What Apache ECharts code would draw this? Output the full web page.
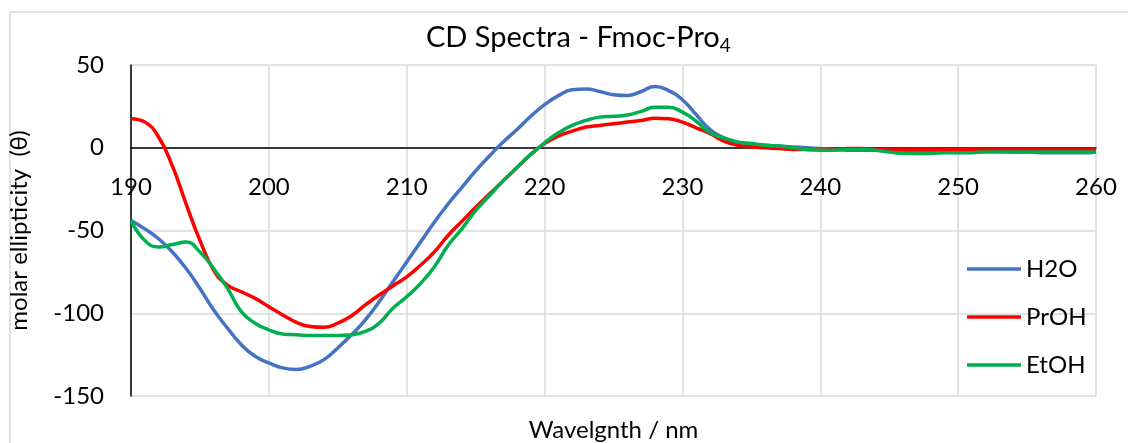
<!DOCTYPE html>
<html>
<head>
<meta charset="utf-8">
<script src="https://cdn.jsdelivr.net/npm/echarts@6/dist/echarts.min.js"></script>
<style>
  html, body { margin: 0; padding: 0; background: #fff; }
  #chart { width: 1128px; height: 443px; }
</style>
</head>
<body>
<div id="chart"></div>
<script>
// wavelength 190..260 nm, 1 nm steps
var wavelengths = [];
for (var w = 190; w <= 260; w++) wavelengths.push(w);

var h2o = [
  -44, -49, -55, -63, -73, -85, -98, -109, -119, -126,
  -130, -133, -134, -132, -128, -121, -113, -104, -93, -81,
  -69, -57, -45, -34, -24, -14, -5, 3.5, 11, 19,
  26, 31.5, 35, 35.5, 34, 32, 31.5, 34, 37, 34.5,
  29, 20, 11, 6, 3, 2, 1.5, 1, 0.5, 0,
  -0.5, -1, -1.5, -1.5, -1.5, -1.5, -1.5, -1.5, -1.5, -1.5,
  -1.5, -1.5, -2, -2, -2.5, -2.5, -3, -3, -3, -3,
  -2.5
];
var proh = [
  17.5, 15.5, 6.5, -11, -34, -56, -74, -83, -87, -91,
  -96, -101, -105.5, -108, -108.5, -106, -101.5, -95, -89, -83.5,
  -78, -71, -63, -53, -44.5, -36, -28, -20, -12, -4,
  2.5, 7, 10, 12.5, 13.5, 14.5, 15.5, 16.5, 17.8, 17.5,
  15.5, 12, 8.5, 4, 1.5, 0.5, 0, -0.5, -1, -1,
  -1, -1, -0.5, -0.5, -1, -1, -1, -1, -1, -1,
  -1, -1, -1, -1, -1, -1, -1.2, -1.2, -1.2, -1.2,
  -1.2
];
var etoh = [
  -44, -56, -60, -58.5, -57, -63, -73, -85, -99, -106,
  -110, -112.5, -113, -113.5, -113.5, -113.5, -113, -111, -106, -97,
  -90, -82, -72, -59, -49, -38, -29, -20, -12, -4,
  3, 9, 13.5, 16.5, 18.5, 19, 19.8, 22, 24.5, 24.5,
  21.5, 16, 9, 6, 3.5, 2.5, 1.5, 1, 0, -1,
  -1.5, -1.5, -1, -1, -1.5, -2.5, -3.5, -3.5, -3.5, -3,
  -3, -3, -2.5, -2.5, -2.5, -2.5, -2.5, -2.5, -2.5, -2.5,
  -2.5
];

function pairs(ys) {
  return wavelengths.map(function (x, i) { return [x, ys[i]]; });
}

var font = 'Lato';
var chart = echarts.init(document.getElementById('chart'), null, { renderer: 'canvas' });

var option = {
  animation: false,
  textStyle: { fontFamily: font, color: '#000' },
  graphic: [{
    type: 'rect',
    shape: { x: 10, y: 12, width: 1130, height: 450 },
    style: { fill: 'none', stroke: '#d9d9d9', lineWidth: 1.5 },
    silent: true
  }],
  title: {
    text: 'CD Spectra - Fmoc-Pro{sub|4}',
    left: 426,
    top: 21,
    padding: 0,
    textStyle: {
      fontFamily: font,
      fontSize: 29,
      fontWeight: 'normal',
      color: '#000',
      rich: {
        sub: { fontFamily: font, fontSize: 19, color: '#000', padding: [15, 0, 0, 0] }
      }
    }
  },
  legend: {
    orient: 'vertical',
    left: 962,
    top: 250,
    itemWidth: 54,
    itemHeight: 14,
    itemGap: 20,
    icon: 'path://M0,6 L54,6 L54,9.5 L0,9.5 Z',
    textStyle: { fontFamily: font, fontSize: 24, color: '#000', lineHeight: 28 },
    data: ['H2O', 'PrOH', 'EtOH']
  },
  grid: { left: 131, right: 32, top: 65, bottom: 47, outerBoundsMode: 'none', containLabel: false },
  xAxis: {
    type: 'value',
    min: 190,
    max: 260,
    interval: 10,
    // axis sits on y = 0: shift it up from the grid bottom
    offset: -248.7,
    name: 'Wavelgnth / nm',
    nameLocation: 'middle',
    nameGap: 271,
    nameTextStyle: { fontFamily: font, fontSize: 24, color: '#000' },
    axisLine: { onZero: false, lineStyle: { color: '#000', width: 1.5 } },
    axisTick: { show: false },
    axisLabel: { fontFamily: font, fontSize: 24, color: '#000', margin: 28 },
    splitLine: { show: true, lineStyle: { color: '#d9d9d9', width: 1.5 } }
  },
  yAxis: {
    type: 'value',
    min: -150,
    max: 50,
    interval: 50,
    name: 'molar ellipticity  (θ)',
    nameLocation: 'middle',
    nameGap: 100,
    nameTextStyle: { fontFamily: font, fontSize: 24, color: '#000' },
    axisLine: { show: true, lineStyle: { color: '#000', width: 1.5 } },
    axisTick: { show: false },
    axisLabel: { fontFamily: font, fontSize: 24, color: '#000', margin: 27 },
    splitLine: { show: true, lineStyle: { color: '#d9d9d9', width: 1.5 } }
  },
  series: [{
    name: 'H2O',
    type: 'line',
    data: pairs(h2o),
    smooth: 0.5,
    symbol: 'none',
    itemStyle: { color: '#4472C4' },
    lineStyle: { color: '#4472C4', width: 3.5 }
  }, {
    name: 'PrOH',
    type: 'line',
    data: pairs(proh),
    smooth: 0.5,
    symbol: 'none',
    itemStyle: { color: '#FF0000' },
    lineStyle: { color: '#FF0000', width: 3.5 }
  }, {
    name: 'EtOH',
    type: 'line',
    data: pairs(etoh),
    smooth: 0.5,
    symbol: 'none',
    itemStyle: { color: '#00B050' },
    lineStyle: { color: '#00B050', width: 3.5 }
  }]
};

chart.setOption(option);
</script>
</body>
</html>
